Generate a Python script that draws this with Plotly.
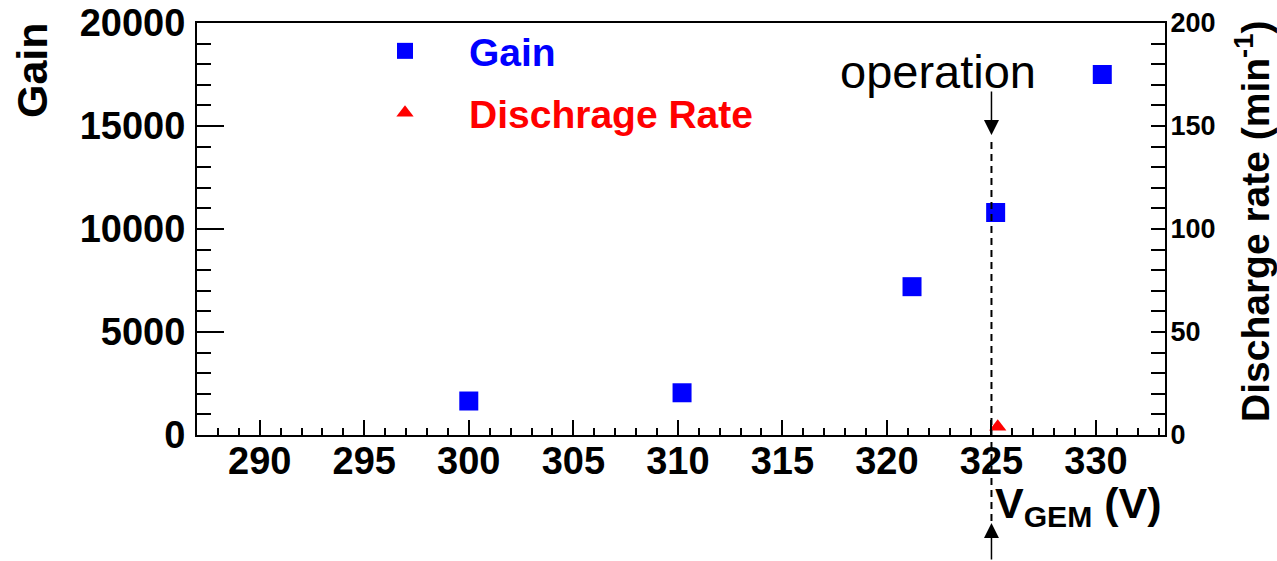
import plotly.graph_objects as go

# ---- data ----
voltage_gain = [300.0, 310.2, 321.2, 325.2, 330.3]
gain = [1650, 2050, 7200, 10800, 17500]
voltage_discharge = [325.3]
discharge_rate = [4]
operation_voltage = 325

x_range = [287.0, 333.3]
gain_range = [0, 20000]
rate_range = [0, 200]

W, H = 1277, 561
L, R, T, B = 197, 112, 23, 126
pw, ph = W - L - R, H - T - B


def px(xp):
    return (xp - L) / pw


def py(yp):
    return (H - B - yp) / ph


FONT = "Liberation Sans, Arial, sans-serif"

fig = go.Figure()
fig.add_trace(go.Scatter(
    x=voltage_gain, y=gain, mode="markers", name="<span style='color:#0000ff'><b>Gain</b></span>",
    marker=dict(symbol="square", size=19, color="#0000ff", line=dict(width=0)),
    legend="legend", yaxis="y", cliponaxis=False))
fig.add_trace(go.Scatter(
    x=voltage_discharge, y=discharge_rate, mode="markers",
    name="<span style='color:#ff0000'><b>Dischrage Rate</b></span>",
    marker=dict(symbol="triangle-up", size=15, color="#ff0000", line=dict(width=0)),
    legend="legend2", yaxis="y2", cliponaxis=False))

tickfont = dict(family=FONT, size=38, color="black", weight="bold")

fig.update_layout(
    width=W, height=H,
    margin=dict(l=L, r=R, t=T, b=B, autoexpand=False),
    paper_bgcolor="white", plot_bgcolor="white",
    xaxis=dict(range=x_range, showgrid=False, zeroline=False, showline=True, linecolor="black",
               linewidth=2, mirror=True, ticks="inside", ticklen=15, tickwidth=2, tickcolor="black",
               tick0=290, dtick=5, tickfont=tickfont, ticklabelstandoff=-9, automargin=False,
               minor=dict(dtick=1, ticks="inside", ticklen=7, tickwidth=2, tickcolor="black")),
    yaxis=dict(range=gain_range, showgrid=False, zeroline=False, showline=True, linecolor="black",
               linewidth=2, ticks="inside", ticklen=27, tickwidth=2, tickcolor="black",
               tick0=0, dtick=5000, tickformat="d", tickfont=tickfont, ticklabelstandoff=2,
               automargin=False,
               minor=dict(dtick=1000, ticks="inside", ticklen=14, tickwidth=2, tickcolor="black")),
    yaxis2=dict(range=rate_range, overlaying="y", side="right", showgrid=False, zeroline=False,
                showline=True, linecolor="black", linewidth=2, ticks="inside", ticklen=14,
                tickwidth=2, tickcolor="black", tick0=0, dtick=50, automargin=False,
                tickfont=dict(family=FONT, size=27, color="black", weight="bold"),
                ticklabelstandoff=-2,
                minor=dict(dtick=10, ticks="inside", ticklen=14, tickwidth=2, tickcolor="black")),
    legend=dict(x=px(341), y=py(51), xanchor="left", yanchor="middle",
                bgcolor="rgba(0,0,0,0)", borderwidth=0, itemwidth=118,
                font=dict(family=FONT, size=39), itemsizing="trace"),
    legend2=dict(x=px(341), y=py(113), xanchor="left", yanchor="middle",
                 bgcolor="rgba(0,0,0,0)", borderwidth=0, itemwidth=118,
                 font=dict(family=FONT, size=39), itemsizing="trace"),
    showlegend=True,
)

# dashed operation line
fig.add_shape(type="line", xref="x", yref="paper", x0=operation_voltage, x1=operation_voltage,
              y0=py(521), y1=py(138), line=dict(color="black", width=2, dash="7px,5px"))

annotations = [
    # axis titles
    dict(text="<b>Gain</b>", xref="paper", yref="paper", x=px(32), y=py(70), textangle=-90,
         showarrow=False, xanchor="center", yanchor="middle",
         font=dict(family=FONT, size=43, color="black")),
    dict(text="<b>Discharge rate (min<sup>-1</sup>)</b>", xref="paper", yref="paper",
         x=px(1252), y=py(222), textangle=-90, showarrow=False, xanchor="center", yanchor="middle",
         font=dict(family=FONT, size=39, color="black")),
    dict(text="<b>V<sub>GEM</sub> (V)</b>", xref="paper", yref="paper", x=px(993), y=py(477),
         showarrow=False, xanchor="left", yanchor="top",
         font=dict(family=FONT, size=43, color="black")),
    dict(text="operation", xref="paper", yref="paper", x=px(938), y=py(72), showarrow=False,
         xanchor="center", yanchor="middle", font=dict(family=FONT, size=47, color="black")),
    # arrows
    dict(text="", xref="x", yref="paper", x=operation_voltage, y=py(135), ax=0, ay=-45,
         showarrow=True, arrowhead=2, arrowsize=2, arrowwidth=1.5, arrowcolor="black"),
    dict(text="", xref="x", yref="paper", x=operation_voltage, y=py(523), ax=0, ay=40,
         showarrow=True, arrowhead=2, arrowsize=2, arrowwidth=1.5, arrowcolor="black"),
]
fig.update_layout(annotations=annotations)

fig.write_html("out.html")
